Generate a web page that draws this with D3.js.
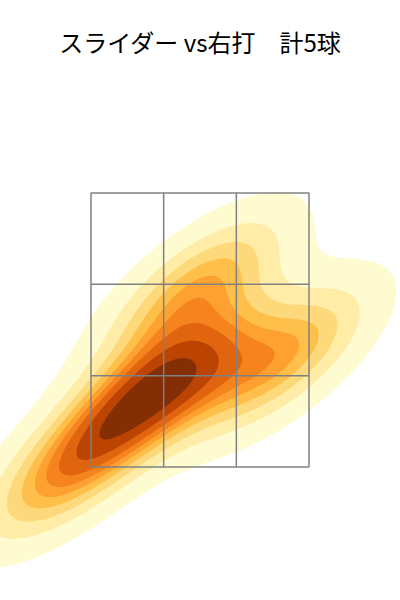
<!DOCTYPE html>
<html>
<head>
<meta charset="utf-8">
<script src="https://cdn.jsdelivr.net/npm/d3@7"></script>
<style>
  body { margin: 0; background: #fff; }
</style>
</head>
<body>
<div id="chart"></div>
<script>
// pitch locations (feet): horizontal, height
const pitch_x = [-0.954, -0.477, -0.110, -0.037, 0.587];
const pitch_z = [1.478, 1.989, 2.172, 2.792, 2.281];

// strike zone edges
const zone_x = [-0.8, 0.8];
const zone_z = [1.5, 3.5];

const title_text = "スライダー vs右打\u3000計5球";
const n_levels = 10;
const thresh = 0.05;
const gridsize = 200;

const width = 400, height = 600;

const svg = d3.select("#chart")
    .append("svg")
    .attr("width", width)
    .attr("height", height);

let xScale = d3.scaleLinear().domain(zone_x).range([91, 309]);
let zScale = d3.scaleLinear().domain(zone_z).range([467, 193]);

// gaussian kde, scott's rule, like scipy
let n = pitch_x.length;
let mx = d3.mean(pitch_x), mz = d3.mean(pitch_z);
let sxx = 0, szz = 0, sxz = 0;
for (let i = 0; i < n; i++) {
    sxx += (pitch_x[i] - mx) * (pitch_x[i] - mx);
    szz += (pitch_z[i] - mz) * (pitch_z[i] - mz);
    sxz += (pitch_x[i] - mx) * (pitch_z[i] - mz);
}
let factor = Math.pow(n, -1 / 6);
let cxx = sxx / (n - 1) * factor * factor;
let czz = szz / (n - 1) * factor * factor;
let cxz = sxz / (n - 1) * factor * factor;
let det = cxx * czz - cxz * cxz;
let ixx = czz / det, izz = cxx / det, ixz = -cxz / det;
let norm_c = 1 / (n * 2 * Math.PI * Math.sqrt(det));

function density(x, z) {
    let s = 0;
    for (let i = 0; i < n; i++) {
        let dx = x - pitch_x[i], dz = z - pitch_z[i];
        s += Math.exp(-0.5 * (ixx * dx * dx + 2 * ixz * dx * dz + izz * dz * dz));
    }
    return s * norm_c;
}

// support grid like seaborn (cut = 3)
let bw_x = Math.sqrt(cxx), bw_z = Math.sqrt(czz);
let gx0 = d3.min(pitch_x) - 3 * bw_x, gx1 = d3.max(pitch_x) + 3 * bw_x;
let gz0 = d3.min(pitch_z) - 3 * bw_z, gz1 = d3.max(pitch_z) + 3 * bw_z;
let stx = (gx1 - gx0) / (gridsize - 1);
let stz = (gz1 - gz0) / (gridsize - 1);

let values = new Float64Array(gridsize * gridsize);
for (let j = 0; j < gridsize; j++) {
    for (let i = 0; i < gridsize; i++) {
        values[j * gridsize + i] = density(gx0 + i * stx, gz0 + j * stz);
    }
}

// iso-proportion levels -> density levels
let sorted_values = Array.from(values).sort((a, b) => b - a);
let total = d3.sum(sorted_values);
let cum = [];
let acc = 0;
for (let v of sorted_values) { acc += v; cum.push(acc / total); }
let levels = [];
for (let k = 0; k < n_levels; k++) {
    let p = (k === n_levels - 1) ? 1 : thresh + k * (1 - thresh) / (n_levels - 1);
    let target = 1 - p;
    let idx = d3.bisectLeft(cum, target);
    if (idx > sorted_values.length - 1) idx = sorted_values.length - 1;
    levels.push(sorted_values[idx]);
}

// colours as matplotlib contourf: band midpoints normed over the levels
let cmap = d3.scaleLinear()
    .domain(d3.range(9).map(i => i / 8))
    .range(d3.schemeYlOrBr[9])
    .interpolate(d3.interpolateRgb);

let lo = levels[0], hi = levels[n_levels - 1];
let band_colors = [];
for (let k = 0; k < n_levels - 1; k++) {
    let mid = (levels[k] + levels[k + 1]) / 2;
    band_colors.push(cmap((mid - lo) / (hi - lo)));
}

let contours = d3.contours()
    .size([gridsize, gridsize])
    .thresholds(levels.slice(0, n_levels - 1))(values);

let proj = d3.geoTransform({
    point: function(x, y) {
        this.stream.point(xScale(gx0 + (x - 0.5) * stx), zScale(gz0 + (y - 0.5) * stz));
    }
});
let path = d3.geoPath(proj);

svg.append("g")
    .selectAll("path")
    .data(contours)
    .enter()
    .append("path")
    .attr("d", path)
    .attr("fill", function(d, i) { return band_colors[i]; })
    .attr("stroke", "none");

// strike zone 3x3
let zx = d3.range(4).map(i => zone_x[0] + i * (zone_x[1] - zone_x[0]) / 3);
let zz = d3.range(4).map(i => zone_z[0] + i * (zone_z[1] - zone_z[0]) / 3);

let zone = svg.append("g")
    .attr("stroke", "#808080")
    .attr("stroke-width", 1.5)
    .attr("fill", "none");

zone.selectAll(".vline")
    .data(zx)
    .enter()
    .append("line")
    .attr("class", "vline")
    .attr("x1", d => xScale(d))
    .attr("x2", d => xScale(d))
    .attr("y1", zScale(zone_z[0]))
    .attr("y2", zScale(zone_z[1]));

zone.selectAll(".hline")
    .data(zz)
    .enter()
    .append("line")
    .attr("class", "hline")
    .attr("x1", xScale(zone_x[0]))
    .attr("x2", xScale(zone_x[1]))
    .attr("y1", d => zScale(d))
    .attr("y2", d => zScale(d));

svg.append("text")
    .attr("x", width / 2)
    .attr("y", 52)
    .attr("text-anchor", "middle")
    .attr("font-family", "'Noto Sans CJK JP', sans-serif")
    .attr("font-size", "24px")
    .attr("fill", "#000")
    .text(title_text);
</script>
</body>
</html>
